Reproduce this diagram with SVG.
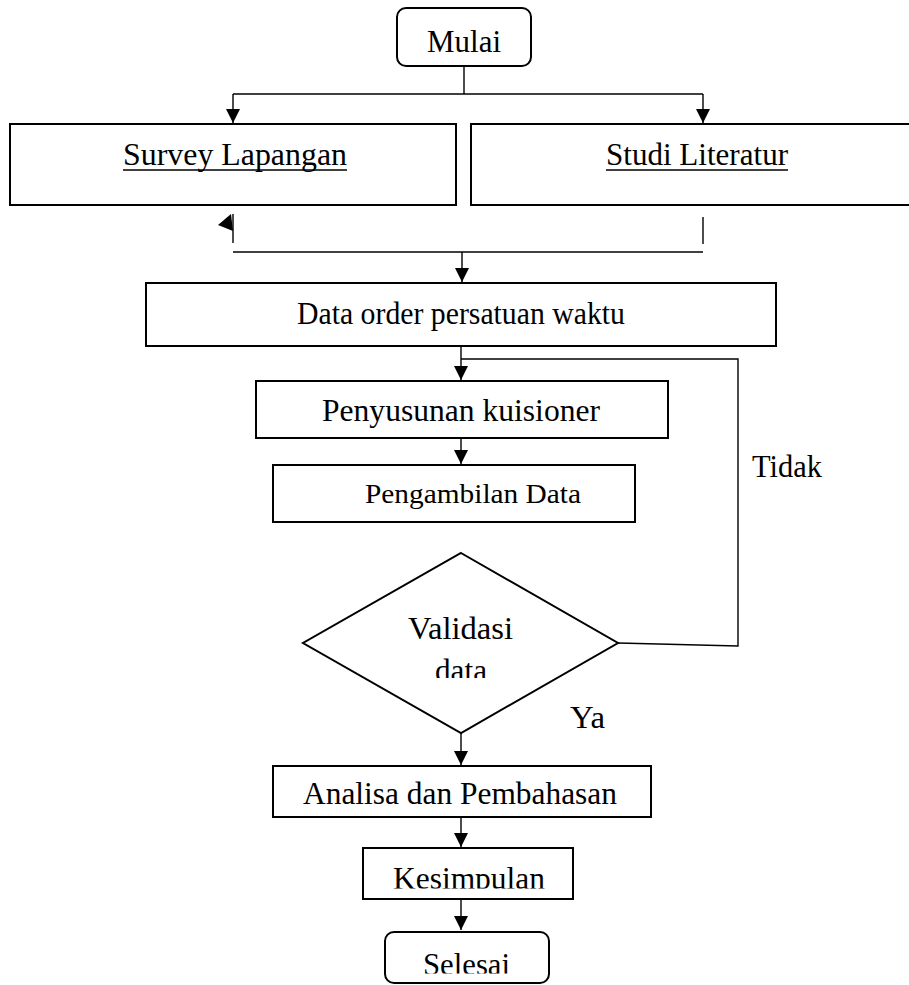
<svg xmlns="http://www.w3.org/2000/svg" width="909" height="985" viewBox="0 0 909 985">
<style>
.box{fill:#fff;stroke:#000;stroke-width:2}
.ln{fill:none;stroke:#000;stroke-width:1.4}
.t{font-family:"Liberation Serif","Times New Roman",serif;font-size:31px;fill:#000}
.s{font-size:27px}
</style>
<defs>
<marker id="ah" markerUnits="userSpaceOnUse" markerWidth="16" markerHeight="16" refX="14" refY="7" orient="auto">
<path d="M0,0 L14,7 L0,14 z" fill="#000"/>
</marker>
<clipPath id="cData"><rect x="0" y="0" width="909" height="678"/></clipPath>
<clipPath id="cKes"><rect x="0" y="0" width="909" height="888.5"/></clipPath>
<clipPath id="cSel"><rect x="0" y="0" width="909" height="973.5"/></clipPath>
</defs>
<rect width="909" height="985" fill="#fff"/>

<g id="connectors">
<path class="ln" d="M464,66 V94"/>
<path class="ln" d="M233,94 H703"/>
<path class="ln" d="M233,94 V123" marker-end="url(#ah)"/>
<path class="ln" d="M703,94 V123" marker-end="url(#ah)"/>
<path class="ln" d="M233,214 V243"/>
<polygon points="218,225 231,214 233,231" fill="#000"/>
<path class="ln" d="M703,217 V244"/>
<path class="ln" d="M233,252 H703"/>
<path class="ln" d="M462,252 V282" marker-end="url(#ah)"/>
<path class="ln" d="M461,347 V380" marker-end="url(#ah)"/>
<path class="ln" d="M461,359 H738 V646 L618,643"/>
<path class="ln" d="M461,439 V464" marker-end="url(#ah)"/>
<path class="ln" d="M461,733 V765" marker-end="url(#ah)"/>
<path class="ln" d="M461,817 V847" marker-end="url(#ah)"/>
<path class="ln" d="M461,899 V930" marker-end="url(#ah)"/>
<text class="t" x="752" y="477" textLength="70" lengthAdjust="spacingAndGlyphs">Tidak</text>
<text class="t" x="570" y="728" textLength="35" lengthAdjust="spacingAndGlyphs">Ya</text>
</g>

<g id="mulai">
<rect class="box" x="397" y="8" width="134" height="58" rx="9"/>
<text class="t" x="427" y="52" textLength="74" lengthAdjust="spacingAndGlyphs">Mulai</text>
</g>

<g id="survey">
<rect class="box" x="10" y="124" width="446" height="81"/>
<text class="t" x="123" y="165" textLength="224" lengthAdjust="spacingAndGlyphs">Survey Lapangan</text>
<line x1="123" y1="170" x2="347" y2="170" stroke="#000" stroke-width="1.6"/>
</g>

<g id="studi">
<rect class="box" x="471" y="124" width="450" height="81"/>
<text class="t" x="606" y="165" textLength="182" lengthAdjust="spacingAndGlyphs">Studi Literatur</text>
<line x1="606" y1="170" x2="788" y2="170" stroke="#000" stroke-width="1.6"/>
</g>

<g id="data-order">
<rect class="box" x="146" y="283" width="630" height="63"/>
<text class="t" x="297" y="324" textLength="328" lengthAdjust="spacingAndGlyphs">Data order persatuan waktu</text>
</g>

<g id="penyusunan">
<rect class="box" x="256" y="381" width="412" height="57"/>
<text class="t" x="322" y="421" textLength="278" lengthAdjust="spacingAndGlyphs">Penyusunan kuisioner</text>
</g>

<g id="pengambilan">
<rect class="box" x="273" y="465" width="362" height="57"/>
<text class="t s" x="365" y="503" textLength="216" lengthAdjust="spacingAndGlyphs">Pengambilan Data</text>
</g>

<g id="validasi">
<polygon class="box" points="461,553 618,643 461,733 303,643"/>
<text class="t" x="408" y="639" textLength="105" lengthAdjust="spacingAndGlyphs">Validasi</text>
<text class="t" x="435" y="681" textLength="52" lengthAdjust="spacingAndGlyphs" clip-path="url(#cData)">data</text>
</g>

<g id="analisa">
<rect class="box" x="273" y="766" width="378" height="51"/>
<text class="t" x="303" y="804" textLength="314" lengthAdjust="spacingAndGlyphs">Analisa dan Pembahasan</text>
</g>

<g id="kesimpulan">
<rect class="box" x="363" y="848" width="210" height="51"/>
<text class="t" x="393" y="889" textLength="152" lengthAdjust="spacingAndGlyphs" clip-path="url(#cKes)">Kesimpulan</text>
</g>

<g id="selesai">
<rect class="box" x="385" y="932" width="164" height="51" rx="9"/>
<text class="t" x="423" y="975" textLength="87" lengthAdjust="spacingAndGlyphs" clip-path="url(#cSel)">Selesai</text>
</g>
</svg>
